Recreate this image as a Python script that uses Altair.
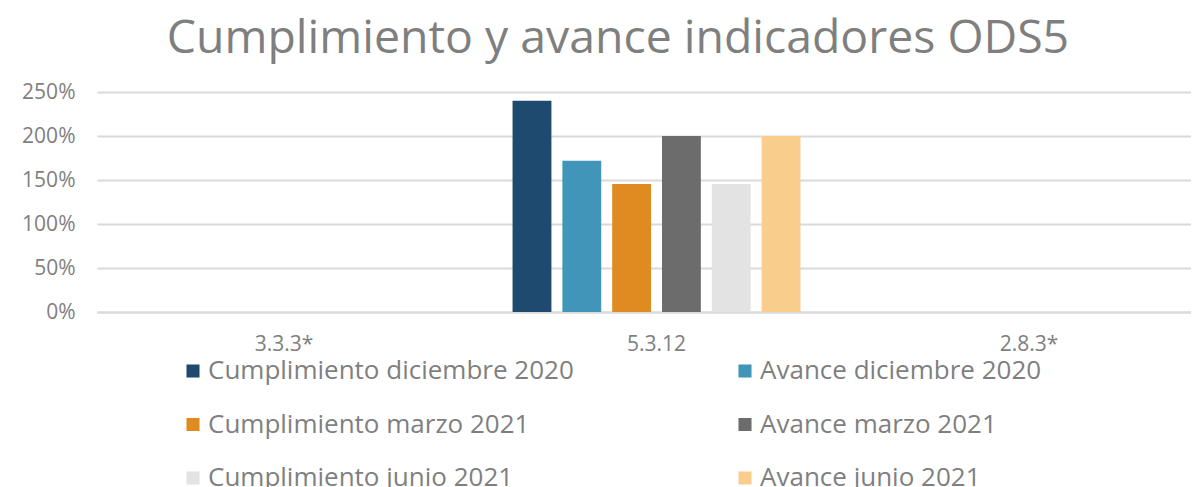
import altair as alt
import pandas as pd

categories = ["3.3.3*", "5.3.12", "2.8.3*"]
series = [
    "Cumplimiento diciembre 2020",
    "Avance diciembre 2020",
    "Cumplimiento marzo 2021",
    "Avance marzo 2021",
    "Cumplimiento junio 2021",
    "Avance junio 2021",
]
colors = ["#1F4A6F", "#4095B9", "#E08A22", "#6C6C6C", "#E3E3E3", "#F9CE8C"]
values_3_3_3 = [None, None, None, None, None, None]
values_5_3_12 = [2.40, 1.72, 1.455, 2.00, 1.455, 2.00]
values_2_8_3 = [None, None, None, None, None, None]

rows = []
for cat, vals in zip(categories, [values_3_3_3, values_5_3_12, values_2_8_3]):
    for s, v in zip(series, vals):
        rows.append({"cat": cat, "serie": s, "valor": v})
df = pd.DataFrame(rows)

# legend is laid out column by column: reorder so rows read (Cumplimiento, Avance)
legend_order = series[0::2] + series[1::2]
legend_colors = colors[0::2] + colors[1::2]

FONT = "Open Sans"
GREY = "#7F7F7F"

chart = alt.Chart(df).mark_bar().encode(
    x=alt.X("cat:N", sort=categories,
            scale=alt.Scale(domain=categories, paddingInner=0.227, paddingOuter=0.082,
                            align=0.705),
            axis=alt.Axis(title=None, labelAngle=0, labelFontSize=21, labelColor=GREY,
                          labelFont=FONT, ticks=False, domainColor="#D9D9D9",
                          domainWidth=2, labelPadding=21)),
    xOffset=alt.XOffset("serie:N", sort=series,
                        scale=alt.Scale(domain=series, paddingInner=0.22, paddingOuter=0)),
    y=alt.Y("valor:Q",
            scale=alt.Scale(domain=[0, 2.5], nice=False),
            axis=alt.Axis(title=None, format=".0%", values=[0, 0.5, 1, 1.5, 2, 2.5],
                          labelFontSize=21, labelColor=GREY, labelFont=FONT,
                          ticks=False, domain=False, gridColor="#D9D9D9",
                          gridWidth=2, labelPadding=22)),
    color=alt.Color("serie:N",
                    scale=alt.Scale(domain=legend_order, range=legend_colors),
                    legend=alt.Legend(title=None, orient="none", legendX=83, legendY=266,
                                      columns=2, columnPadding=158, rowPadding=27.5,
                                      symbolType="square", symbolSize=170,
                                      symbolStrokeWidth=0, labelFontSize=26,
                                      labelColor=GREY, labelFont=FONT, labelLimit=600,
                                      symbolOffset=0, labelOffset=2)),
).properties(
    width=1094,
    height=220,
    title=alt.TitleParams("Cumplimiento y avance indicadores ODS5", fontSize=46.4,
                          font=FONT, fontWeight="normal", color=GREY,
                          anchor="middle", offset=19, dx=-26),
    padding={"left": 13, "top": 7, "right": 0, "bottom": 5},
).configure_view(stroke=None)

chart.save("out.html", embed_options={"renderer": "svg", "actions": False})
